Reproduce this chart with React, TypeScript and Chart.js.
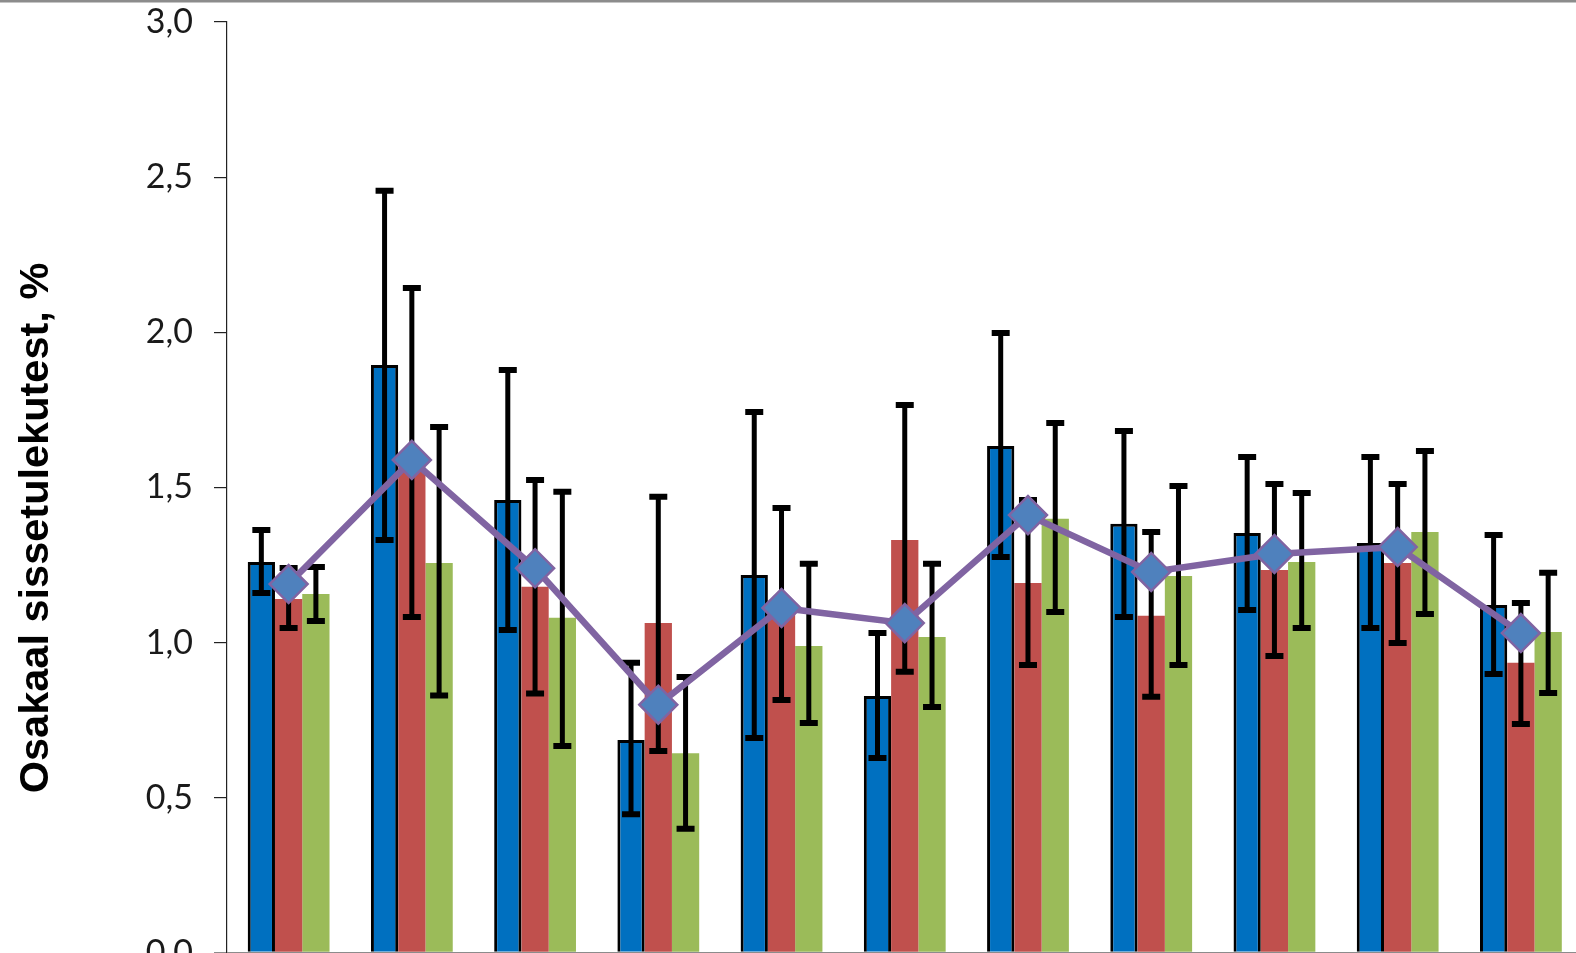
import React, { useEffect, useRef } from "react";
import { Chart, registerables } from "chart.js";

Chart.register(...registerables);

const categories = ["1", "2", "3", "4", "5", "6", "7", "8", "9", "10", "11"];

const blueValues = [1.26, 1.895, 1.46, 0.686, 1.218, 0.828, 1.634, 1.383, 1.353, 1.321, 1.121];
const blueHigh = [1.363, 2.456, 1.879, 0.935, 1.743, 1.031, 1.998, 1.682, 1.598, 1.598, 1.347];
const blueLow = [1.16, 1.331, 1.041, 0.447, 0.693, 0.628, 1.276, 1.083, 1.105, 1.047, 0.899];

const redValues = [1.141, 1.565, 1.18, 1.063, 1.125, 1.331, 1.192, 1.087, 1.234, 1.257, 0.935];
const redHigh = [1.241, 2.143, 1.524, 1.47, 1.434, 1.766, 1.46, 1.357, 1.511, 1.511, 1.128];
const redLow = [1.047, 1.083, 0.836, 0.651, 0.815, 0.906, 0.928, 0.826, 0.957, 0.999, 0.738];

const greenValues = [1.157, 1.257, 1.08, 0.644, 0.989, 1.018, 1.399, 1.215, 1.26, 1.357, 1.034];
const greenHigh = [1.244, 1.695, 1.486, 0.889, 1.254, 1.254, 1.708, 1.505, 1.482, 1.618, 1.225];
const greenLow = [1.07, 0.83, 0.667, 0.4, 0.741, 0.793, 1.099, 0.928, 1.047, 1.092, 0.838];

const lineValues = [1.189, 1.589, 1.24, 0.8, 1.112, 1.063, 1.411, 1.228, 1.286, 1.308, 1.031];

const yTicks = [0, 0.5, 1.0, 1.5, 2.0, 2.5, 3.0];
const yTitle = "Osakaal sissetulekutest, %";

const errorHighs = [blueHigh, redHigh, greenHigh];
const errorLows = [blueLow, redLow, greenLow];

const W = 1576;
const H = 953;
const EXTRA = 40; // canvas runs below the window so the plot reaches the bottom edge
const EXTRA_W = 28; // and past the right edge, so the plot reaches the right edge

const errorBarPlugin = {
  id: "errorBars",
  beforeDatasetDraw(chart: any, args: any) {
    if (args.meta.type !== "line") return;
    const ctx = chart.ctx;
    const y = chart.scales.y;
    ctx.save();
    ctx.strokeStyle = "#000";
    ctx.lineCap = "butt";
    for (let i = 0; i < errorHighs.length; i++) {
      const meta = chart.getDatasetMeta(i);
      meta.data.forEach((bar: any, j: number) => {
        const x = bar.x;
        const yh = y.getPixelForValue(errorHighs[i][j]);
        const yl = y.getPixelForValue(errorLows[i][j]);
        ctx.lineWidth = 5;
        ctx.beginPath();
        ctx.moveTo(x, yh);
        ctx.lineTo(x, yl);
        ctx.stroke();
        ctx.lineWidth = 6;
        ctx.beginPath();
        ctx.moveTo(x - 9, yh);
        ctx.lineTo(x + 9, yh);
        ctx.moveTo(x - 9, yl);
        ctx.lineTo(x + 9, yl);
        ctx.stroke();
      });
    }
    ctx.restore();
  },
};

const decorPlugin = {
  id: "decor",
  afterDraw(chart: any) {
    const ctx = chart.ctx;
    ctx.save();
    ctx.fillStyle = "#8c8c8c";
    ctx.fillRect(0, 0, W + EXTRA_W, 2.5);
    ctx.translate(48, 528);
    ctx.rotate(-Math.PI / 2);
    ctx.fillStyle = "#000";
    ctx.font = 'bold 41.5px "Liberation Sans", Arial, sans-serif';
    ctx.textAlign = "center";
    ctx.textBaseline = "alphabetic";
    ctx.fillText(yTitle, 0, 0);
    ctx.restore();
  },
};

export default function App() {
  const ref = useRef<HTMLCanvasElement | null>(null);

  useEffect(() => {
    document.body.style.margin = "0";
    document.body.style.overflow = "hidden";
    const canvas = ref.current;
    if (!canvas) return;
    const chart = new Chart(canvas, {
      type: "bar",
      data: {
        labels: categories,
        datasets: [
          {
            type: "bar",
            label: "A",
            data: blueValues,
            backgroundColor: "#0070C0",
            borderColor: "#000",
            borderWidth: 3,
            borderSkipped: "bottom",
            order: 1,
          },
          {
            type: "bar",
            label: "B",
            data: redValues,
            backgroundColor: "#C0504D",
            borderWidth: 0,
            order: 1,
          },
          {
            type: "bar",
            label: "C",
            data: greenValues,
            backgroundColor: "#9BBB59",
            borderWidth: 0,
            order: 1,
          },
          {
            type: "line",
            label: "D",
            data: lineValues,
            borderColor: "#8064A2",
            borderWidth: 6.5,
            pointStyle: "rectRot",
            pointRadius: 19,
            pointBackgroundColor: "#4F81BD",
            pointBorderColor: "#8064A2",
            pointBorderWidth: 2.5,
            tension: 0,
            order: 0,
          } as any,
        ],
      },
      options: {
        responsive: false,
        animation: false,
        devicePixelRatio: 1,
        layout: { padding: { top: 22, left: 0, right: 0, bottom: EXTRA } },
        datasets: {
          bar: { categoryPercentage: 0.664, barPercentage: 1.0 },
        },
        plugins: {
          legend: { display: false },
          tooltip: { enabled: false },
          title: { display: false },
        },
        scales: {
          x: {
            display: false,
            offset: true,
          },
          y: {
            min: 0,
            max: 3,
            afterBuildTicks(scale: any) {
              scale.ticks = yTicks.map((v) => ({ value: v }));
            },
            afterFit(scale: any) {
              scale.width = 227;
              scale.paddingTop = 0;
              scale.paddingBottom = 0;
            },
            ticks: {
              padding: 21,
              color: "#1a1a1a",
              font: { family: "Lato", size: 34 },
              callback: (v: any) => Number(v).toFixed(1).replace(".", ","),
            },
            grid: {
              drawOnChartArea: true,
              tickLength: 13,
              color: (c: any) => (c.tick && c.tick.value === 0 ? "#8c8c8c" : "rgba(0,0,0,0)"),
              tickColor: (c: any) => (c.tick && c.tick.value === 0 ? "#8c8c8c" : "#222"),
              lineWidth: (c: any) => (c.tick && c.tick.value === 0 ? 2.5 : 1.2),
            },
            border: { display: true, color: "#222", width: 1.2 },
          },
        },
      },
      plugins: [errorBarPlugin, decorPlugin],
    });
    return () => chart.destroy();
  }, []);

  return (
    <div style={{ position: "fixed", left: 0, top: 0, width: W, height: H, overflow: "hidden", background: "#fff" }}>
      <canvas ref={ref} width={W + EXTRA_W} height={H + EXTRA} style={{ display: "block" }} />
    </div>
  );
}
